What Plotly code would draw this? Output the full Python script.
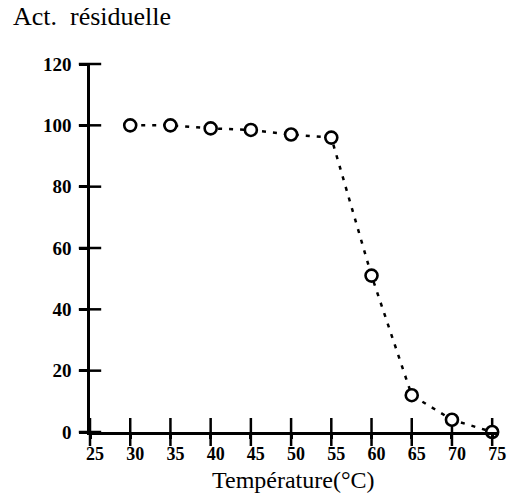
import plotly.graph_objects as go

temperature = [30, 35, 40, 45, 50, 55, 60, 65, 70, 75]
activity = [100, 100, 99, 98.5, 97, 96, 51, 12, 4, 0]
x_ticks = [25, 30, 35, 40, 45, 50, 55, 60, 65, 70, 75]
y_ticks = [0, 20, 40, 60, 80, 100, 120]
x_title = "Température(°C)"
y_title = "Act.  résiduelle"

serif = "Liberation Serif"
plot_top, plot_bottom = 64, 61
plot_h = 493 - plot_top - plot_bottom

fig = go.Figure()
# cross ticks on the x axis (centred on the axis line)
fig.add_trace(go.Scatter(
    x=x_ticks, y=[y_ticks[0]] * len(x_ticks), mode="markers",
    marker=dict(symbol="line-ns", size=20, line=dict(color="black", width=2.5)),
    cliponaxis=False, showlegend=False, hoverinfo="skip",
))
# cross ticks on the y axis
fig.add_trace(go.Scatter(
    x=[x_ticks[0]] * len(y_ticks), y=y_ticks, mode="markers",
    marker=dict(symbol="line-ew", size=16, line=dict(color="black", width=2.5)),
    cliponaxis=False, showlegend=False, hoverinfo="skip",
))
fig.add_trace(go.Scatter(
    x=temperature, y=activity, mode="lines+markers",
    line=dict(color="black", width=2.5, dash="4px,7px"),
    marker=dict(symbol="circle", size=12, color="white",
                line=dict(color="black", width=2.6)),
    cliponaxis=False, showlegend=False, hoverinfo="skip",
))

fig.update_layout(
    width=513, height=493,
    margin=dict(l=90, r=16, t=plot_top, b=plot_bottom, autoexpand=False),
    plot_bgcolor="white", paper_bgcolor="white",
    title=dict(text=y_title, x=13/513, xanchor="left",
               y=1 - 7/493, yanchor="top", xref="container", yref="container",
               font=dict(family=serif, size=26, color="black")),
    xaxis=dict(range=[25, 75.6], tickvals=x_ticks, ticktext=[str(v) for v in x_ticks],
               ticks="outside", ticklen=4, showline=True, showgrid=False, zeroline=False,
               linecolor="black", linewidth=2.5, tickcolor="black", tickwidth=2.5,
               tickfont=dict(family=serif, size=18, color="black", weight="bold"),
               ticklabelshift=5, ticklabelstandoff=0, automargin=False),
    yaxis=dict(range=[0, 120], tickvals=y_ticks, ticktext=[str(v) for v in y_ticks],
               ticks="outside", ticklen=8, showline=True, showgrid=False, zeroline=False,
               linecolor="black", linewidth=2.5, tickcolor="black", tickwidth=2.5,
               tickfont=dict(family=serif, size=19, color="black", weight="bold"),
               ticklabelstandoff=4, automargin=False),
    annotations=[dict(text=x_title, xref="paper", yref="paper", x=0.5,
                      y=-plot_bottom / plot_h, xanchor="center", yanchor="bottom",
                      yshift=-1, showarrow=False, borderpad=0,
                      font=dict(family=serif, size=24, color="black"))],
)

fig.write_html("out.html")
